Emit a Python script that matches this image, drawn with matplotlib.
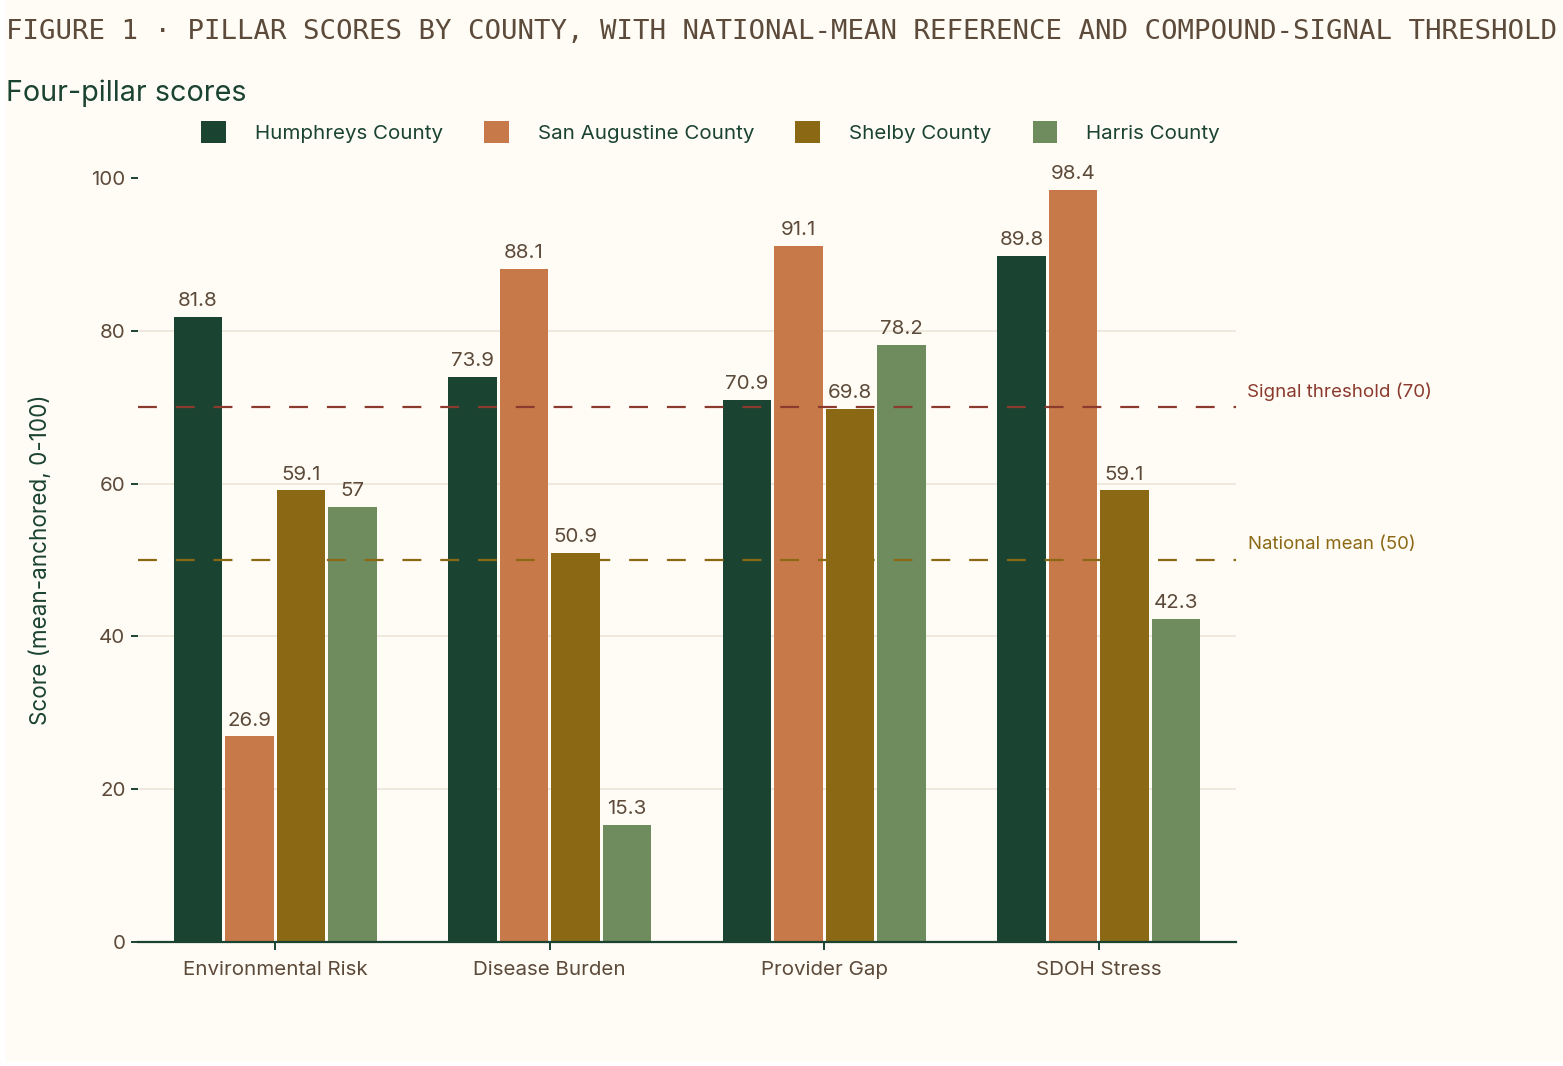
import matplotlib
matplotlib.use("Agg")
import matplotlib.pyplot as plt
import numpy as np
from matplotlib.patches import Rectangle

plt.rcParams['font.family'] = ['Inter', 'DejaVu Sans']

pillars = ["Environmental Risk", "Disease Burden", "Provider Gap", "SDOH Stress"]
counties = ["Humphreys County", "San Augustine County", "Shelby County", "Harris County"]
humphreys = [81.8, 73.9, 70.9, 89.8]
san_augustine = [26.9, 88.1, 91.1, 98.4]
shelby = [59.1, 50.9, 69.8, 59.1]
harris = [57.0, 15.3, 78.2, 42.3]
series = [humphreys, san_augustine, shelby, harris]
colors = ["#1b4332", "#c8794a", "#8b6914", "#6f8c5e"]

national_mean = 50
signal_threshold = 70
yticks = [0, 20, 40, 60, 80, 100]

bg = "#fffcf5"
green = "#1b4332"
brown_txt = "#5c4a3a"
signal_col = "#8b3a2e"
mean_col = "#8b6914"

fig = plt.figure(figsize=(15.63, 10.66), dpi=100, facecolor="white")
fig.patches.append(Rectangle((6 / 1563, 4 / 1066), 1, 1, transform=fig.transFigure,
                             facecolor=bg, edgecolor="none", zorder=-10))

ax = fig.add_axes([138 / 1563, 1 - 942 / 1066, 1098 / 1563, 764 / 1066])
ax.set_facecolor(bg)

x = np.arange(len(pillars))
slot = 0.1876
bw = 0.175
for i, (vals, name, c) in enumerate(zip(series, counties, colors)):
    pos = x + (i - 1.5) * slot
    bars = ax.bar(pos, vals, width=bw, color=c, label=name, zorder=2)
    for xp, v in zip(pos, vals):
        ax.annotate(f"{v:g}", (xp, v), xytext=(0, 5), textcoords="offset points",
                    ha="center", va="bottom", fontsize=14.8, color=brown_txt)

ax.axhline(signal_threshold, color=signal_col, lw=1.6, linestyle=(0, (8.5, 8.5)), zorder=3)
ax.axhline(national_mean, color=mean_col, lw=1.6, linestyle=(0, (8.5, 8.5)), zorder=3)
ax.annotate(f"Signal threshold ({signal_threshold})", (1, signal_threshold),
            xycoords=("axes fraction", "data"), xytext=(8, 11), textcoords="offset points",
            ha="left", va="center", fontsize=13.5, color=signal_col)
ax.annotate(f"National mean ({national_mean})", (1, national_mean),
            xycoords=("axes fraction", "data"), xytext=(9, 11), textcoords="offset points",
            ha="left", va="center", fontsize=13.4, color=mean_col)

ax.set_xlim(-0.5, len(pillars) - 0.5)
ax.set_ylim(0, 100)
ax.set_yticks(yticks)
ax.set_xticks(x)
ax.set_xticklabels(pillars)
ax.yaxis.grid(True, color="#ece6d9", lw=1.2, zorder=0)
ax.set_axisbelow(True)
ax.get_ygridlines()[-1].set_visible(False)
ax.get_ygridlines()[0].set_visible(False)

for s in ["top", "right", "left"]:
    ax.spines[s].set_visible(False)
ax.spines["bottom"].set_color(green)
ax.spines["bottom"].set_linewidth(1.6)

ax.tick_params(axis="y", length=5, width=1.4, color=green, labelcolor=brown_txt,
               labelsize=14.8, pad=4)
ax.tick_params(axis="x", length=6, width=1.4, color=green, labelcolor=brown_txt,
               labelsize=14.8, pad=8)

ax.set_ylabel("Score (mean-anchored, 0-100)", fontsize=16.2, color=green)
ax.yaxis.set_label_coords(-0.078, 0.5)

fig.text(6 / 1563, 1 - 32 / 1066,
         "FIGURE 1 \u00b7 PILLAR SCORES BY COUNTY, WITH NATIONAL-MEAN REFERENCE AND COMPOUND-SIGNAL THRESHOLD",
         family=["DejaVu Sans Mono"], fontsize=19.75, color=brown_txt, va="center", ha="left")
fig.text(6 / 1563, 1 - 93 / 1066, "Four-pillar scores", fontsize=20.7, color=green,
         va="center", ha="left")

leg = fig.legend(loc="center left", bbox_to_anchor=(201 / 1563, 1 - 132 / 1066), ncol=4,
                 frameon=False, fontsize=14.8, borderpad=0, borderaxespad=0,
                 handlelength=1.21, handleheight=1.3, handletextpad=1.41, columnspacing=2.0)
for t in leg.get_texts():
    t.set_color(green)

fig.savefig("out.png", dpi=100, facecolor="white")
